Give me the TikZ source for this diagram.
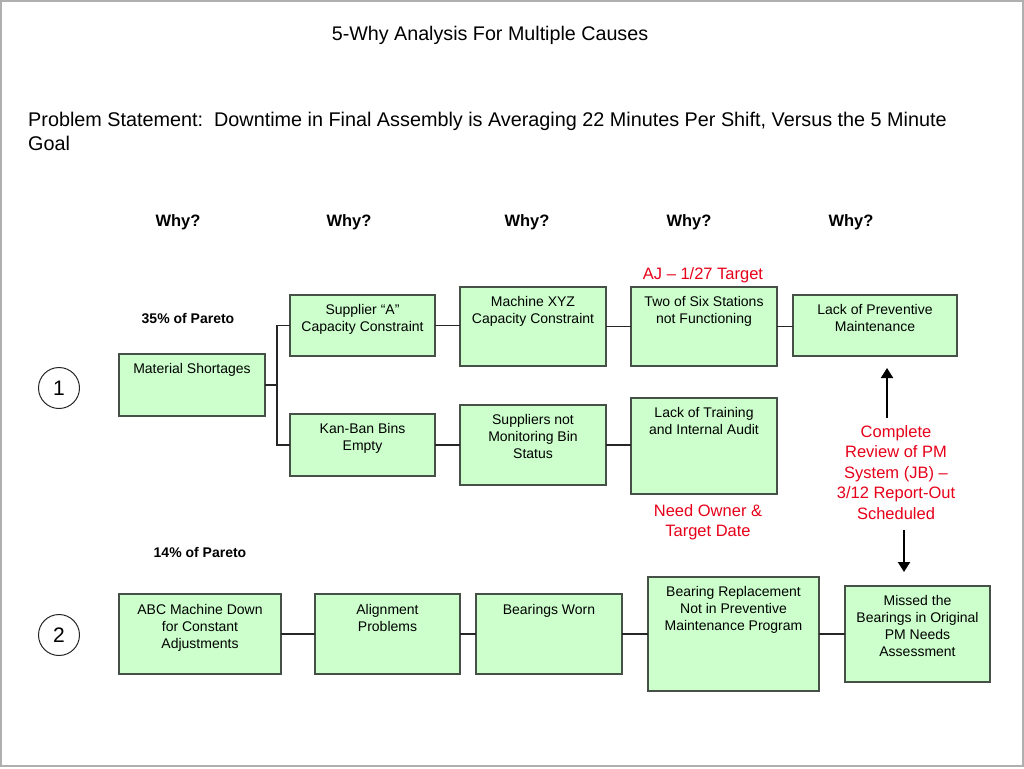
\documentclass[tikz,border=0pt]{standalone}
\usepackage{fontspec}
\setmainfont{Liberation Sans}
\usetikzlibrary{arrows.meta}
\definecolor{boxfill}{RGB}{204,255,204}
\definecolor{boxline}{RGB}{70,80,70}
\definecolor{redtxt}{RGB}{230,0,25}
\definecolor{framegray}{RGB}{175,175,175}
\tikzset{
  box/.style={draw=boxline, fill=boxfill, line width=1.3pt, inner sep=0pt, outer sep=0pt, anchor=north west},
  boxtext/.style={font=\fontsize{14}{17}\selectfont, align=center, inner sep=0pt, anchor=north},
  why/.style={font=\bfseries\fontsize{16.5}{20}\selectfont, inner sep=0pt},
  pareto/.style={font=\bfseries\fontsize{14}{17}\selectfont, inner sep=0pt},
  note/.style={font=\fontsize{16.5}{20.5}\selectfont, text=redtxt, align=center, inner sep=0pt},
  conn/.style={draw=black!85, line width=1.2pt},
  arr/.style={draw=black, line width=2pt, -{Triangle[width=12pt,length=10pt]}},
  numcirc/.style={circle, draw=black!85, line width=1pt, minimum size=41pt, inner sep=0pt, font=\fontsize{21}{24}\selectfont}
}
\begin{document}
\begin{tikzpicture}[x=1pt,y=-1pt]
\useasboundingbox (0,0) rectangle (1024,768);
\draw[framegray, line width=1.5pt] (1,1) rectangle (1023,766);

% titles
\node[font=\fontsize{19.7}{23}\selectfont, inner sep=0pt] (title) at (490,35) {5-Why Analysis For Multiple Causes};
\node[font=\fontsize{19.8}{23.5}\selectfont, align=left, anchor=north west, inner sep=0pt] (prob) at (28,112)
  {Problem Statement:\ \ Downtime in Final Assembly is Averaging 22 Minutes Per Shift, Versus the 5 Minute\\Goal};

% why headers
\node[why] (w1) at (178,222) {Why?};
\node[why] (w2) at (349,222) {Why?};
\node[why] (w3) at (527,222) {Why?};
\node[why] (w4) at (689,222) {Why?};
\node[why] (w5) at (851,222) {Why?};

\node[pareto] (p1) at (188,319) {35\% of Pareto};
\node[pareto] (p2) at (200,552) {14\% of Pareto};

\node[numcirc] (c1) at (59,388) {1};
\node[numcirc] (c2) at (59,635) {2};

% row 1 boxes
\node[box, minimum width=146pt, minimum height=62pt] (ms) at (119,354) {};
\node[box, minimum width=145pt, minimum height=61pt] (sa) at (290,295) {};
\node[box, minimum width=145pt, minimum height=62pt] (kb) at (290,414) {};
\node[box, minimum width=146pt, minimum height=79pt] (mx) at (460,287) {};
\node[box, minimum width=146pt, minimum height=80pt] (sn) at (460,405) {};
\node[box, minimum width=146pt, minimum height=79pt] (ts) at (631,287) {};
\node[box, minimum width=146pt, minimum height=96pt] (lt) at (631,398) {};
\node[box, minimum width=164pt, minimum height=61pt] (lp) at (793,295) {};

% row 2 boxes
\node[box, minimum width=162pt, minimum height=80pt] (abc) at (119,594) {};
\node[box, minimum width=145pt, minimum height=80pt] (al) at (315,594) {};
\node[box, minimum width=146pt, minimum height=80pt] (bw) at (476,594) {};
\node[box, minimum width=171pt, minimum height=114pt] (br) at (648,577) {};
\node[box, minimum width=145pt, minimum height=96pt] (mb) at (845,586) {};

% box texts
\node[boxtext] (ms-t) at ([yshift=-9.5pt]ms.north) {Material Shortages};
\node[boxtext] (sa-t) at ([yshift=-9.5pt]sa.north) {Supplier \char"201C A\char"201D\\Capacity Constraint};
\node[boxtext] (kb-t) at ([yshift=-9.5pt]kb.north) {Kan-Ban Bins\\Empty};
\node[boxtext] (mx-t) at ([yshift=-9pt]mx.north) {Machine XYZ\\Capacity Constraint};
\node[boxtext] (sn-t) at ([yshift=-9pt]sn.north) {Suppliers not\\Monitoring Bin\\Status};
\node[boxtext] (ts-t) at ([yshift=-9pt]ts.north) {Two of Six Stations\\not Functioning};
\node[boxtext] (lt-t) at ([yshift=-9pt]lt.north) {Lack of Training\\and Internal Audit};
\node[boxtext] (lp-t) at ([yshift=-9pt]lp.north) {Lack of Preventive\\Maintenance};
\node[boxtext] (abc-t) at ([yshift=-10pt]abc.north) {ABC Machine Down\\for Constant\\Adjustments};
\node[boxtext] (al-t) at ([yshift=-10pt]al.north) {Alignment\\Problems};
\node[boxtext] (bw-t) at ([yshift=-10pt]bw.north) {Bearings Worn};
\node[boxtext] (br-t) at ([yshift=-9pt]br.north) {Bearing Replacement\\Not in Preventive\\Maintenance Program};
\node[boxtext] (mb-t) at ([yshift=-9pt]mb.north) {Missed the\\Bearings in Original\\PM Needs\\Assessment};

% red notes
\node[note] (aj) at (703,275) {AJ -- 1/27 Target};
\node[note, anchor=north] (need) at (708,504) {Need Owner \&\\Target Date};
\node[note, anchor=north] (rev) at (896,425) {Complete\\Review of PM\\System (JB) --\\3/12 Report-Out\\Scheduled};

% connectors row 1
\draw[conn] (ms.east) -- ++(12,0) coordinate (j1) |- (sa.west);
\draw[conn] (j1) |- (kb.west);
\draw[conn] (sa.east) -- (sa.east -| mx.west);
\draw[conn] (mx.east) -- (mx.east -| ts.west);
\draw[conn] (ts.east) -- (ts.east -| lp.west);
\draw[conn] (kb.east) -- (kb.east -| sn.west);
\draw[conn] (sn.east) -- (sn.east -| lt.west);

% connectors row 2
\draw[conn] (abc.east) -- (al.west);
\draw[conn] (al.east) -- (bw.west);
\draw[conn] (bw.east) -- (br.west);
\draw[conn] (br.east) -- (mb.west);

% arrows
\coordinate (upa) at (887,418);
\coordinate (dna) at (904,530);
\draw[arr, shorten >=12pt] (upa) -- (upa |- lp.south);
\draw[arr, shorten >=14pt] (dna) -- (dna |- mb.north);
\end{tikzpicture}
\end{document}
